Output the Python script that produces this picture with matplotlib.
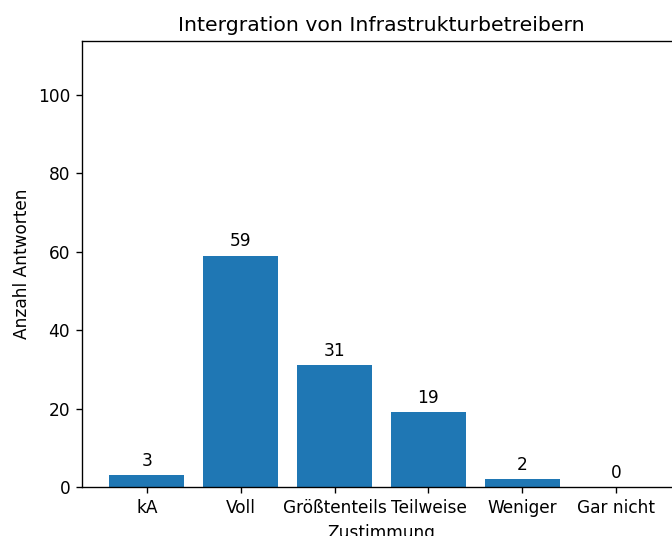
import matplotlib
matplotlib.use("Agg")
import matplotlib.pyplot as plt

categories = ["kA", "Voll", "Größtenteils", "Teilweise", "Weniger", "Gar nicht"]
counts = [3, 59, 31, 19, 2, 0]

DPI = 122
fig = plt.figure(figsize=(672 / DPI, 536 / DPI), dpi=DPI)
# axes run a little past the right edge, as in the reference
ax = fig.add_axes([82 / 672, 49 / 536, 599 / 672, 446 / 536])

x = range(len(categories))
bars = ax.bar(x, counts, width=0.8, color="#1f77b4")
ax.set_xticks(list(x))
ax.set_xticklabels(categories)
ax.set_ylim(0, 113.7)
ax.set_xlim(-0.69, 5.69)

for rect, val in zip(bars, counts):
    ax.annotate(str(val), xy=(rect.get_x() + rect.get_width() / 2, rect.get_height()),
                xytext=(0, 3), textcoords="offset points", ha="center", va="bottom")

ax.set_title("Intergration von Infrastrukturbetreibern")
ax.set_ylabel("Anzahl Antworten")
ax.set_xlabel("Zustimmung")

fig.savefig("out.png", dpi=DPI)
